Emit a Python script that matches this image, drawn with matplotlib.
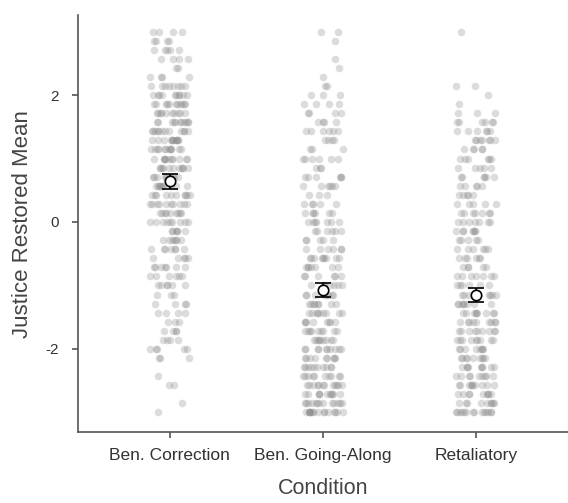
import numpy as np
import matplotlib.pyplot as plt

plt.rcParams['font.family'] = ['Liberation Sans', 'DejaVu Sans']
plt.rcParams['axes.unicode_minus'] = False

# DATA
conditions = ["Ben. Correction", "Ben. Going-Along", "Retaliatory"]
# response levels (scale mean of 7 items, steps of 1/7), top to bottom
levels = np.arange(21, -22, -1) / 7.0
# number of participants at each level (k = 21 .. -21)
counts_correction = [4, 4, 5, 4, 2, 4, 8, 10, 11, 10, 11, 12, 12, 12, 11, 11, 10, 10, 10, 10, 9,
                     9, 6, 7, 7, 5, 7, 6, 6, 3, 4, 4, 3, 4, 4, 5, 3, 0, 1, 2, 0, 1, 1]
counts_going_along = [2, 1, 0, 1, 1, 1, 2, 3, 4, 4, 4, 6, 4, 3, 6, 3, 6, 6, 3, 5, 6,
                      7, 6, 5, 6, 9, 7, 6, 7, 8, 8, 9, 8, 9, 9, 10, 9, 10, 10, 12, 11, 13, 16]
counts_retaliatory = [1, 0, 0, 0, 0, 0, 2, 1, 1, 3, 6, 6, 7, 5, 6, 5, 6, 5, 5, 5, 7,
                      7, 7, 5, 6, 6, 5, 7, 6, 7, 8, 9, 9, 9, 9, 8, 9, 9, 9, 10, 9, 9, 14]
group_means = [0.64, -1.07, -1.15]
group_errors = [0.12, 0.115, 0.11]

fig = plt.figure(figsize=(5.68, 5.03), dpi=100)
ax = fig.add_axes([0.137, 0.141, 0.863, 0.829])

rng = np.random.default_rng(3)
all_counts = [counts_correction, counts_going_along, counts_retaliatory]
for i, counts in enumerate(all_counts):
    yv = np.repeat(levels, counts)
    xv = i + 1 + rng.uniform(-0.13, 0.13, size=len(yv))
    ax.scatter(xv, yv, s=30, color='#8c8c8c', alpha=0.3, linewidths=0, zorder=2)

ax.errorbar(np.arange(1, 4), group_means, yerr=group_errors, fmt='o',
            color='black', mfc='white', mec='black', ms=7.5, mew=1.2,
            elinewidth=1.2, capsize=5.5, capthick=1.2, zorder=5)

ax.set_xlim(0.4, 3.6)
ax.set_ylim(-3.31, 3.26)
ax.set_xticks([1, 2, 3])
ax.set_xticklabels(conditions)
ax.set_yticks([-2, 0, 2])

for s in ['top', 'right']:
    ax.spines[s].set_visible(False)
for s in ['left', 'bottom']:
    ax.spines[s].set_color('#555555')
    ax.spines[s].set_linewidth(1.2)
ax.tick_params(axis='both', colors='#555555', length=4.5, width=1.2,
               labelcolor='#333333')
ax.tick_params(axis='x', labelsize=12.5, pad=7)
ax.tick_params(axis='y', labelsize=11, pad=9)

ax.set_xlabel("Condition", fontsize=15.5, color='#444444', labelpad=11)
ax.set_ylabel("Justice Restored Mean", fontsize=16, color='#444444', labelpad=9)

fig.savefig("out.png", dpi=100)
